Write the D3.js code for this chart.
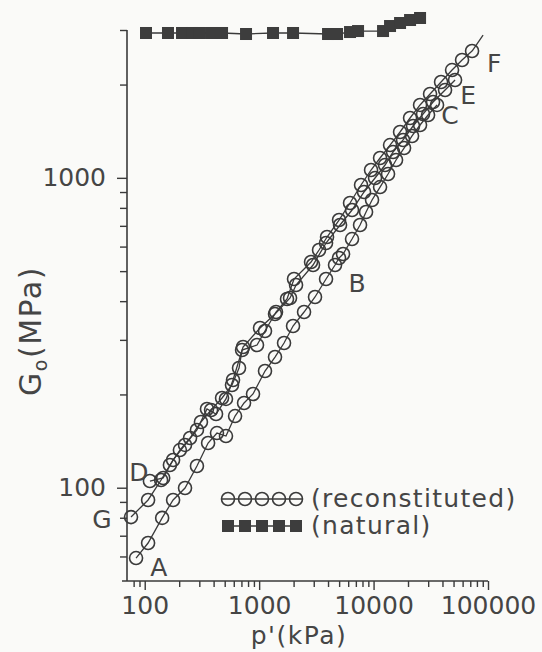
<!DOCTYPE html>
<html><head><meta charset="utf-8">
<script src="https://cdn.jsdelivr.net/npm/d3@7"></script>
<style>
html,body{margin:0;padding:0;background:#fafaf8;}
svg{display:block;}
text{font-family:"DejaVu Sans",sans-serif;fill:#454545;}
</style></head><body>
<svg id="chart" width="542" height="652"></svg>
<script>
// ---- data: [p' (kPa), G0 (MPa)] ----
const curveABC = [[84,59.3],[107,66.3],[142,79.9],[177,91.3],[225,99.8],[286,117.5],[358,139.4],[428,150.1],[513,146.8],[616,170.3],[738,187.7],[884,200.7],[1125,238],[1376,264.1],[1650,293.1],[1978,332.5],[2468,369],[3078,412.6],[3842,471.6],[4605,523.2],[4992,551.1],[5410,567.8],[6482,634.6],[7617,704.5],[8597,775.9],[9697,848.1],[11394,933.9],[13380,1029],[15720,1142],[18470,1248],[21690,1365],[25480,1481],[29940,1595],[35870,1719]];
const curveDE = [[111,105.1],[145,107.5],[177,122.9],[225,137.4],[286,153.6],[350,179.5],[420,172.9],[513,193.4],[591,222.6],[723,284.6],[1018,327.6],[1376,363.6],[1862,409.5],[2101,451],[2958,523.2],[3842,616.1],[5093,704.5],[6482,787.4],[8254,900.2],[10300,999],[12600,1100],[14800,1212],[18100,1325],[22130,1470],[27060,1607],[33100,1757],[42140,1921],[51540,2069]];
const curveGF = [[75.9,80.4],[107,91.3],[139,105.9],[166,118.4],[203,132.3],[249,144.7],[310,163],[380,178.2],[474,194.8],[579,214.5],[667,243.4],[709,278.2],[958,288.8],[1125,320.4],[1404,369],[1752,406.4],[2017,471.6],[2841,535],[3337,584.9],[3920,644.2],[4992,731],[6226,829.4],[7771,948.3],[9504,1060],[11394,1159],[13930,1276],[17040,1406],[20840,1560],[25480,1719],[31160,1865],[38880,2039],[48520,2228],[59340,2400],[72560,2566]];
const curveGFTail = [[72560,2566],[90560,2890]];
const naturalData = [[102.6,2934],[159.7,2934],[211.8,2934],[259,2934],[304,2934],[387,2934],[474,2934],[768,2912],[1322,2934],[1978,2934],[4000,2912],[4795,2912],[6226,2955],[7317,2977],[12100,2977],[13930,3090],[17040,3160],[20840,3231],[25480,3280]];
const curveLabels = [["A",133,55.5],["B",7170,457.6],["C",46600,1595],["D",89.1,112.4],["E",66950,1851],["F",113000,2347],["G",42.3,79.3]];
const xMajorTicks = [100,1000,10000,100000];
const xMinorTicks = [80,90,200,300,400,500,600,700,800,900,2000,3000,4000,5000,6000,7000,8000,9000,20000,30000,40000,50000,60000,70000,80000,90000];
const yMajorTicks = [100,1000];
const yMinorTicks = [60,70,80,90,200,300,400,500,600,700,800,900,2000,3000];
const legendLabels = ["(reconstituted)","(natural)"];

const ink = "#3a3a3a";
const svg = d3.select("#chart");
const x = d3.scaleLog().domain([70,100000]).range([127,488]);
const y = d3.scaleLog().domain([50,3000]).range([581,30]);

// axes
const gx = svg.append("g").attr("transform","translate(0,581)");
gx.call(d3.axisBottom(x).tickValues(xMajorTicks).tickSize(9).tickPadding(6).tickFormat(d3.format("d")));
gx.call(g=>g.select(".domain").remove());
const gx2 = svg.append("g").attr("transform","translate(0,581)");
gx2.call(d3.axisBottom(x).tickValues(xMinorTicks).tickSize(6).tickFormat(""));
gx2.call(g=>g.select(".domain").remove());
svg.append("line").attr("x1",x.range()[0]-5).attr("x2",x.range()[1]).attr("y1",581).attr("y2",581)
  .attr("stroke",ink).attr("stroke-width",1.6);

const gy = svg.append("g").attr("transform","translate(127,0)");
gy.call(d3.axisLeft(y).tickValues(yMajorTicks).tickSize(10).tickPadding(11).tickFormat(d3.format("d")));
gy.call(g=>g.select(".domain").remove());
const gy2 = svg.append("g").attr("transform","translate(127,0)");
gy2.call(d3.axisLeft(y).tickValues(yMinorTicks).tickSize(7).tickFormat(""));
gy2.call(g=>g.select(".domain").remove());
svg.append("line").attr("x1",127).attr("x2",127).attr("y1",y.range()[0]).attr("y2",y.range()[1])
  .attr("stroke",ink).attr("stroke-width",1.6);

svg.selectAll(".tick line").attr("stroke",ink).attr("stroke-width",1.4);
svg.selectAll(".tick text").attr("font-size",25).attr("font-family","DejaVu Sans").attr("fill","#454545");

// axis titles
const yt = svg.append("text").attr("transform","translate(41,331) rotate(-90)")
  .attr("text-anchor","middle").attr("font-size",30).attr("letter-spacing",1.5);
yt.append("tspan").text("G");
yt.append("tspan").attr("font-size",19).attr("dy",6).text("o");
yt.append("tspan").attr("dy",-6).text("(MPa)");
svg.append("text").attr("x",299).attr("y",644).attr("text-anchor","middle")
  .attr("font-size",25).attr("letter-spacing",1.5).text("p'(kPa)");

// data
const line = d3.line().x(d=>x(d[0])).y(d=>y(d[1]));
[curveABC,curveDE,curveGF,curveGFTail].forEach(c=>{
  svg.append("path").attr("d",line(c)).attr("fill","none").attr("stroke",ink).attr("stroke-width",1.3);
});
[curveABC,curveDE,curveGF].forEach(c=>{
  svg.append("g").selectAll("circle").data(c).join("circle")
    .attr("cx",d=>x(d[0])).attr("cy",d=>y(d[1])).attr("r",6.5)
    .attr("fill","none").attr("stroke",ink).attr("stroke-width",1.6);
});
svg.append("path").attr("d",line(naturalData)).attr("fill","none").attr("stroke",ink).attr("stroke-width",1.3);
svg.append("g").selectAll("rect").data(naturalData).join("rect")
  .attr("x",d=>x(d[0])-6).attr("y",d=>y(d[1])-6).attr("width",12).attr("height",12)
  .attr("fill","#3d3d3d");

// curve labels
svg.append("g").selectAll("text").data(curveLabels).join("text")
  .attr("x",d=>x(d[1])).attr("y",d=>y(d[2])).attr("dy","0.36em")
  .attr("text-anchor","middle").attr("font-size",25).text(d=>d[0]);

// legend
const lg = svg.append("g");
const lx0 = 228, lstep = 17, ly = [499,526];
lg.append("line").attr("x1",lx0-6).attr("x2",lx0+4*lstep+6).attr("y1",ly[0]).attr("y2",ly[0]).attr("stroke",ink).attr("stroke-width",1.3);
lg.append("line").attr("x1",lx0-6).attr("x2",lx0+4*lstep+6).attr("y1",ly[1]).attr("y2",ly[1]).attr("stroke",ink).attr("stroke-width",1.3);
d3.range(5).forEach(i=>{
  lg.append("circle").attr("cx",lx0+i*lstep).attr("cy",ly[0]).attr("r",6.5).attr("fill","none").attr("stroke",ink).attr("stroke-width",1.6);
  lg.append("rect").attr("x",lx0+i*lstep-6).attr("y",ly[1]-6).attr("width",12).attr("height",12).attr("fill","#3d3d3d");
});
legendLabels.forEach((t,i)=>{
  lg.append("text").attr("x",311).attr("y",ly[i]).attr("dy","0.32em").attr("font-size",25)
    .attr("letter-spacing",1.3).text(t);
});
</script>
</body></html>
